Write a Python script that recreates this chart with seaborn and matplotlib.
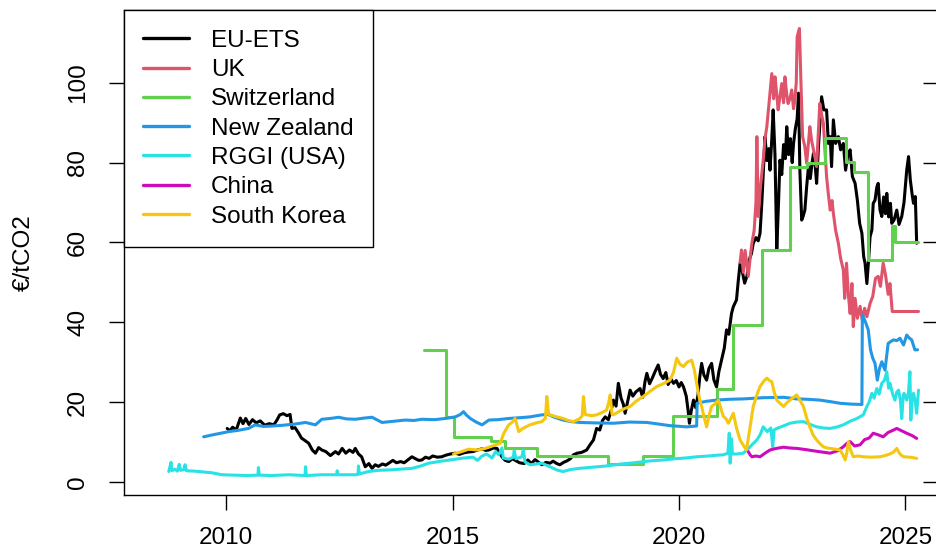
import matplotlib
matplotlib.use("Agg")
import matplotlib.pyplot as plt
import pandas as pd
import seaborn as sns
from matplotlib.lines import Line2D

# Carbon prices, (year, EUR per tonne CO2)
eu_ets = [
    (2010.02, 13.4), (2010.08, 12.8), (2010.14, 13.7), (2010.22, 13.0), (2010.31, 16.0),
    (2010.37, 14.6), (2010.43, 15.9), (2010.50, 14.4), (2010.58, 15.6), (2010.66, 14.8),
    (2010.75, 15.3), (2010.85, 14.2), (2010.95, 14.6), (2011.05, 14.3), (2011.12, 15.5),
    (2011.18, 16.8), (2011.26, 17.1), (2011.34, 16.6), (2011.41, 16.9), (2011.45, 13.4),
    (2011.52, 13.6), (2011.60, 12.2), (2011.66, 11.0), (2011.72, 10.5), (2011.82, 9.7),
    (2011.90, 8.0), (2011.97, 7.2), (2012.04, 8.6), (2012.11, 8.0), (2012.20, 7.6),
    (2012.30, 6.6), (2012.41, 7.6), (2012.48, 7.0), (2012.56, 8.4), (2012.64, 7.2),
    (2012.72, 8.0), (2012.80, 7.4), (2012.85, 8.4), (2012.92, 7.0), (2012.99, 6.3),
    (2013.07, 3.8), (2013.15, 4.6), (2013.22, 3.4), (2013.29, 4.3), (2013.36, 3.9),
    (2013.45, 4.5), (2013.52, 4.2), (2013.59, 4.7), (2013.68, 5.4), (2013.76, 4.8),
    (2013.85, 5.1), (2013.93, 4.8), (2014.02, 5.6), (2014.10, 6.3), (2014.18, 5.8),
    (2014.25, 5.4), (2014.32, 5.5), (2014.40, 6.2), (2014.48, 5.9), (2014.56, 6.5),
    (2014.66, 6.2), (2014.76, 6.3), (2014.85, 6.7), (2014.95, 7.0), (2015.06, 7.2),
    (2015.15, 6.9), (2015.25, 7.3), (2015.35, 7.5), (2015.45, 7.6), (2015.55, 8.0),
    (2015.65, 8.3), (2015.73, 7.9), (2015.80, 8.0), (2015.90, 8.5), (2015.98, 8.4),
    (2016.04, 7.2), (2016.09, 6.3), (2016.16, 5.4), (2016.24, 5.1), (2016.32, 5.8),
    (2016.40, 5.3), (2016.48, 4.8), (2016.58, 4.6), (2016.66, 5.5), (2016.74, 4.6),
    (2016.82, 5.6), (2016.90, 4.9), (2016.97, 4.3), (2017.06, 4.9), (2017.15, 4.7),
    (2017.22, 5.2), (2017.30, 4.6), (2017.37, 4.3), (2017.45, 4.9), (2017.53, 5.3),
    (2017.60, 5.8), (2017.67, 6.8), (2017.75, 7.2), (2017.85, 7.4), (2017.96, 8.0),
    (2018.04, 9.4), (2018.11, 10.5), (2018.18, 13.4), (2018.25, 13.0), (2018.31, 15.4),
    (2018.37, 16.3), (2018.44, 15.6), (2018.50, 17.8), (2018.55, 20.5), (2018.61, 19.0),
    (2018.66, 24.7), (2018.72, 21.0), (2018.77, 19.5), (2018.81, 17.2), (2018.86, 19.8),
    (2018.92, 23.0), (2018.98, 21.5), (2019.05, 22.6), (2019.14, 23.4), (2019.20, 21.2),
    (2019.25, 25.2), (2019.29, 27.2), (2019.35, 24.6), (2019.41, 26.0), (2019.47, 27.6),
    (2019.54, 29.3), (2019.59, 27.0), (2019.65, 25.9), (2019.71, 27.4), (2019.76, 24.4),
    (2019.82, 25.8), (2019.88, 24.7), (2019.94, 25.4), (2020.00, 23.8), (2020.05, 24.9),
    (2020.10, 23.8), (2020.16, 21.5), (2020.20, 18.0), (2020.23, 14.7), (2020.27, 17.8),
    (2020.32, 20.5), (2020.37, 18.6), (2020.42, 21.8), (2020.46, 26.4), (2020.50, 29.7),
    (2020.55, 26.8), (2020.61, 25.5), (2020.66, 28.4), (2020.72, 29.7), (2020.77, 25.6),
    (2020.83, 23.8), (2020.88, 27.6), (2020.94, 30.5), (2021.00, 33.5), (2021.05, 38.1),
    (2021.10, 37.0), (2021.16, 42.2), (2021.20, 43.9), (2021.27, 45.6), (2021.31, 50.5),
    (2021.35, 54.8), (2021.40, 52.6), (2021.45, 49.8), (2021.50, 51.5), (2021.55, 55.6),
    (2021.60, 57.2), (2021.64, 59.8), (2021.70, 61.2), (2021.75, 60.4), (2021.79, 62.3),
    (2021.83, 70.0), (2021.87, 79.5), (2021.90, 86.5), (2021.94, 80.5), (2021.98, 83.5),
    (2022.01, 78.1), (2022.05, 86.0), (2022.08, 93.2), (2022.12, 82.0), (2022.16, 58.1),
    (2022.20, 70.5), (2022.23, 80.6), (2022.27, 77.0), (2022.31, 84.5), (2022.35, 81.0),
    (2022.38, 89.0), (2022.42, 82.0), (2022.46, 86.0), (2022.50, 80.0), (2022.53, 84.8),
    (2022.57, 88.5), (2022.61, 91.0), (2022.64, 97.4), (2022.67, 78.0), (2022.71, 65.6),
    (2022.74, 66.5), (2022.78, 68.1), (2022.82, 74.0), (2022.86, 79.0), (2022.90, 76.0),
    (2022.94, 80.0), (2022.97, 82.3), (2023.01, 79.0), (2023.04, 74.8), (2023.08, 84.0),
    (2023.12, 91.0), (2023.15, 96.5), (2023.20, 93.2), (2023.26, 93.2), (2023.30, 84.8),
    (2023.34, 86.5), (2023.37, 79.0), (2023.41, 90.7), (2023.46, 84.8), (2023.52, 86.5),
    (2023.57, 83.2), (2023.63, 84.8), (2023.68, 78.1), (2023.73, 82.0), (2023.78, 83.2),
    (2023.83, 76.5), (2023.89, 74.8), (2023.94, 70.6), (2023.99, 64.8), (2024.04, 62.3),
    (2024.08, 56.4), (2024.11, 54.8), (2024.15, 49.7), (2024.19, 56.0), (2024.22, 61.4),
    (2024.26, 63.1), (2024.29, 69.8), (2024.33, 70.6), (2024.37, 73.9), (2024.40, 74.8),
    (2024.44, 68.1), (2024.48, 66.5), (2024.52, 71.4), (2024.56, 67.2), (2024.59, 72.3),
    (2024.63, 66.4), (2024.67, 69.8), (2024.70, 64.8), (2024.75, 65.6), (2024.81, 68.1),
    (2024.86, 64.5), (2024.92, 66.5), (2024.97, 70.0), (2025.03, 78.1), (2025.07, 81.5),
    (2025.11, 75.6), (2025.15, 72.0), (2025.18, 69.8), (2025.22, 71.5), (2025.25, 59.8),
]

uk = [
    (2021.35, 55.0), (2021.38, 58.1), (2021.42, 52.5), (2021.46, 58.0), (2021.53, 51.5),
    (2021.58, 57.0), (2021.61, 59.8), (2021.66, 63.0), (2021.70, 70.0), (2021.72, 86.5),
    (2021.75, 66.5), (2021.80, 74.0), (2021.86, 80.6), (2021.90, 86.0), (2021.94, 89.0),
    (2021.99, 95.0), (2022.05, 102.3), (2022.09, 96.0), (2022.12, 101.5), (2022.16, 97.0),
    (2022.19, 93.2), (2022.23, 96.5), (2022.27, 99.8), (2022.31, 95.0), (2022.34, 101.5),
    (2022.38, 97.0), (2022.41, 94.8), (2022.45, 96.0), (2022.49, 98.2), (2022.53, 93.5),
    (2022.56, 95.7), (2022.59, 100.0), (2022.61, 111.5), (2022.66, 113.6), (2022.69, 101.5),
    (2022.73, 86.5), (2022.78, 84.0), (2022.82, 79.8), (2022.86, 85.0), (2022.89, 89.0),
    (2022.93, 85.5), (2022.97, 83.2), (2023.01, 81.0), (2023.04, 79.0), (2023.08, 88.0),
    (2023.11, 94.8), (2023.15, 92.0), (2023.19, 89.8), (2023.23, 82.0), (2023.26, 76.5),
    (2023.30, 72.0), (2023.34, 68.1), (2023.38, 70.5), (2023.41, 67.3), (2023.46, 63.0),
    (2023.52, 59.8), (2023.57, 56.0), (2023.63, 53.1), (2023.66, 46.0), (2023.70, 54.8),
    (2023.74, 47.0), (2023.78, 42.2), (2023.82, 49.7), (2023.85, 38.9), (2023.89, 46.0),
    (2023.94, 41.0), (2024.00, 44.0), (2024.05, 40.5), (2024.10, 43.5), (2024.15, 41.4),
    (2024.22, 44.7), (2024.28, 46.5), (2024.34, 51.0), (2024.40, 51.5), (2024.45, 49.0),
    (2024.51, 54.8), (2024.56, 52.0), (2024.62, 47.0), (2024.66, 49.7), (2024.71, 42.7),
    (2025.29, 42.7),
]

switzerland = [
    (2014.36, 33.1), (2014.85, 16.3), (2015.04, 11.3), (2015.85, 10.3), (2016.16, 8.4),
    (2016.86, 6.6), (2018.44, 4.5), (2019.21, 6.5), (2019.86, 16.6), (2020.83, 23.2),
    (2021.19, 39.3), (2021.83, 58.1), (2022.45, 78.9), (2022.82, 79.8), (2023.23, 86.1),
    (2023.69, 80.2), (2023.87, 77.6), (2024.17, 55.6), (2024.70, 64.1), (2024.77, 60.2),
    (2025.27, 60.2),
]

new_zealand = [
    (2009.50, 11.3), (2009.70, 11.8), (2009.88, 12.2), (2010.05, 12.6), (2010.25, 12.9),
    (2010.49, 13.4), (2010.64, 14.3), (2010.82, 13.9), (2011.01, 14.0), (2011.25, 14.2),
    (2011.52, 14.5), (2011.75, 14.9), (2011.97, 14.3), (2012.11, 15.7), (2012.30, 15.9),
    (2012.48, 16.2), (2012.65, 15.8), (2012.85, 15.7), (2013.05, 16.0), (2013.22, 16.2),
    (2013.44, 14.9), (2013.70, 15.2), (2013.95, 15.5), (2014.15, 15.4), (2014.32, 15.7),
    (2014.60, 15.6), (2014.84, 15.9), (2015.06, 16.3), (2015.17, 16.9), (2015.24, 17.6),
    (2015.30, 16.8), (2015.39, 15.9), (2015.52, 15.0), (2015.65, 14.3), (2015.80, 15.5),
    (2016.00, 15.6), (2016.24, 15.9), (2016.50, 16.1), (2016.71, 16.3), (2016.97, 16.8),
    (2017.11, 16.9), (2017.25, 16.2), (2017.44, 15.5), (2017.62, 15.1), (2017.81, 14.9),
    (2018.10, 14.8), (2018.55, 14.7), (2018.90, 15.0), (2019.29, 14.9), (2019.55, 14.5),
    (2019.80, 14.1), (2020.17, 13.8), (2020.39, 14.0), (2020.40, 19.7), (2020.60, 20.2),
    (2020.83, 20.5), (2021.10, 20.7), (2021.42, 20.8), (2021.86, 21.1), (2022.31, 21.2),
    (2022.60, 20.8), (2022.85, 20.7), (2023.11, 20.5), (2023.35, 20.1), (2023.56, 19.7),
    (2023.80, 19.5), (2024.04, 19.4), (2024.05, 41.8), (2024.07, 41.4), (2024.12, 40.0),
    (2024.18, 38.1), (2024.23, 33.1), (2024.28, 31.0), (2024.33, 29.7), (2024.38, 25.5),
    (2024.43, 28.5), (2024.48, 30.1), (2024.55, 28.0), (2024.62, 34.7), (2024.68, 35.2),
    (2024.74, 35.6), (2024.81, 35.4), (2024.88, 36.0), (2024.96, 34.3), (2025.03, 36.8),
    (2025.09, 36.0), (2025.14, 35.6), (2025.21, 33.1), (2025.27, 33.1),
]

rggi = [
    (2008.73, 2.6), (2008.78, 4.9), (2008.80, 2.8), (2008.86, 3.2), (2008.92, 2.7),
    (2008.96, 4.4), (2008.99, 2.9), (2009.06, 3.1), (2009.09, 4.3), (2009.12, 2.8),
    (2009.30, 2.7), (2009.50, 2.5), (2009.68, 2.3), (2009.90, 1.8), (2010.20, 1.7),
    (2010.45, 1.6), (2010.70, 1.7), (2010.71, 3.6), (2010.73, 1.7), (2011.00, 1.6),
    (2011.38, 1.8), (2011.74, 1.6), (2011.75, 3.8), (2011.77, 1.6), (2012.11, 1.8),
    (2012.44, 1.8), (2012.45, 2.8), (2012.47, 1.8), (2012.85, 1.8), (2012.91, 1.9),
    (2012.92, 4.0), (2012.94, 2.0), (2013.14, 2.6), (2013.35, 2.9), (2013.59, 3.0),
    (2013.85, 3.2), (2014.10, 3.4), (2014.30, 4.0), (2014.47, 4.7), (2014.75, 5.2),
    (2015.06, 5.7), (2015.25, 6.0), (2015.45, 6.2), (2015.55, 5.4), (2015.65, 6.5),
    (2015.75, 7.0), (2015.87, 6.0), (2015.95, 7.6), (2016.02, 6.8), (2016.09, 8.5),
    (2016.12, 6.0), (2016.24, 5.7), (2016.34, 6.2), (2016.36, 7.8), (2016.40, 5.8),
    (2016.53, 6.3), (2016.56, 8.0), (2016.60, 5.0), (2016.71, 4.3), (2016.85, 4.5),
    (2016.97, 4.7), (2017.15, 3.8), (2017.30, 3.0), (2017.44, 2.6), (2017.60, 3.1),
    (2017.80, 3.4), (2018.00, 3.6), (2018.18, 3.8), (2018.40, 4.0), (2018.65, 4.4),
    (2018.92, 4.7), (2019.15, 5.0), (2019.40, 5.3), (2019.65, 5.5), (2019.90, 5.8),
    (2020.15, 6.0), (2020.39, 6.3), (2020.65, 6.5), (2020.85, 6.7), (2020.98, 6.8),
    (2021.08, 7.2), (2021.11, 12.2), (2021.13, 4.7), (2021.16, 10.8), (2021.18, 7.0),
    (2021.28, 7.0), (2021.42, 7.2), (2021.52, 8.2), (2021.62, 9.4), (2021.72, 10.5),
    (2021.80, 12.0), (2021.86, 13.8), (2021.95, 12.6), (2022.03, 13.5), (2022.07, 8.8),
    (2022.10, 13.0), (2022.16, 13.4), (2022.30, 14.0), (2022.45, 14.7), (2022.60, 15.0),
    (2022.75, 15.1), (2022.90, 14.4), (2023.04, 13.8), (2023.20, 13.5), (2023.34, 13.4),
    (2023.50, 13.8), (2023.63, 14.3), (2023.78, 15.2), (2023.93, 15.9), (2024.07, 16.8),
    (2024.15, 18.9), (2024.20, 20.0), (2024.26, 22.2), (2024.31, 21.0), (2024.37, 23.4),
    (2024.42, 22.0), (2024.48, 24.7), (2024.54, 25.5), (2024.59, 27.6), (2024.63, 23.5),
    (2024.66, 24.7), (2024.72, 22.0), (2024.77, 20.5), (2024.81, 22.5), (2024.85, 23.0),
    (2024.89, 20.5), (2024.92, 15.9), (2024.95, 21.0), (2024.97, 22.2), (2025.03, 20.5),
    (2025.07, 22.5), (2025.10, 27.6), (2025.12, 15.5), (2025.15, 21.0), (2025.18, 22.2),
    (2025.22, 20.0), (2025.25, 17.2), (2025.29, 23.0),
]

china = [
    (2021.53, 7.6), (2021.57, 6.8), (2021.61, 6.3), (2021.70, 6.5), (2021.79, 6.3),
    (2021.90, 7.2), (2022.01, 8.0), (2022.15, 8.4), (2022.31, 8.7), (2022.45, 8.5),
    (2022.60, 8.4), (2022.80, 8.1), (2022.97, 7.8), (2023.15, 7.5), (2023.34, 7.2),
    (2023.50, 7.8), (2023.63, 8.8), (2023.70, 9.6), (2023.78, 10.1), (2023.88, 9.0),
    (2024.00, 9.3), (2024.10, 10.6), (2024.20, 11.0), (2024.29, 12.2), (2024.40, 11.8),
    (2024.51, 11.3), (2024.62, 12.4), (2024.72, 12.9), (2024.81, 13.4), (2024.92, 12.8),
    (2025.03, 12.2), (2025.15, 11.6), (2025.25, 10.9),
]

south_korea = [
    (2015.02, 7.0), (2015.20, 7.6), (2015.35, 8.2), (2015.55, 8.0), (2015.72, 8.4),
    (2015.90, 9.1), (2016.05, 9.7), (2016.13, 12.2), (2016.24, 14.3), (2016.32, 15.0),
    (2016.38, 15.9), (2016.46, 12.6), (2016.55, 13.4), (2016.71, 14.3), (2016.85, 14.8),
    (2016.97, 15.1), (2017.05, 16.0), (2017.08, 21.4), (2017.12, 17.0), (2017.15, 16.8),
    (2017.30, 16.3), (2017.44, 15.9), (2017.55, 15.4), (2017.67, 15.1), (2017.80, 15.8),
    (2017.86, 16.5), (2017.89, 21.4), (2017.93, 16.9), (2017.96, 16.8), (2018.08, 16.6),
    (2018.18, 16.8), (2018.30, 17.4), (2018.40, 18.0), (2018.45, 20.0), (2018.48, 21.8),
    (2018.52, 17.0), (2018.55, 16.8), (2018.70, 17.8), (2018.80, 18.4), (2018.92, 18.9),
    (2019.05, 20.2), (2019.21, 21.4), (2019.35, 22.6), (2019.51, 23.9), (2019.65, 24.6),
    (2019.80, 25.5), (2019.88, 27.5), (2019.95, 31.0), (2020.02, 29.5), (2020.10, 28.9),
    (2020.18, 30.0), (2020.28, 30.5), (2020.34, 28.0), (2020.39, 24.7), (2020.45, 21.0),
    (2020.50, 18.9), (2020.56, 16.0), (2020.61, 13.8), (2020.66, 16.5), (2020.72, 18.9),
    (2020.80, 19.6), (2020.87, 20.5), (2020.93, 18.2), (2020.98, 16.4), (2021.04, 15.8),
    (2021.09, 14.7), (2021.15, 16.0), (2021.20, 17.2), (2021.27, 13.5), (2021.35, 10.5),
    (2021.42, 9.2), (2021.49, 8.0), (2021.56, 13.0), (2021.64, 18.9), (2021.72, 21.8),
    (2021.79, 23.9), (2021.87, 25.2), (2021.94, 26.0), (2022.00, 25.4), (2022.05, 25.1),
    (2022.10, 22.6), (2022.16, 20.5), (2022.24, 19.6), (2022.31, 18.9), (2022.38, 19.8),
    (2022.45, 20.5), (2022.53, 21.2), (2022.60, 21.8), (2022.68, 20.3), (2022.75, 18.9),
    (2022.82, 16.0), (2022.89, 13.8), (2022.96, 11.8), (2023.04, 10.5), (2023.12, 9.5),
    (2023.19, 8.8), (2023.27, 8.5), (2023.34, 8.4), (2023.45, 8.2), (2023.56, 8.0),
    (2023.62, 6.8), (2023.67, 5.5), (2023.71, 7.5), (2023.74, 10.1), (2023.79, 8.0),
    (2023.85, 6.3), (2023.95, 6.5), (2024.07, 6.3), (2024.25, 6.2), (2024.44, 6.3),
    (2024.55, 6.6), (2024.66, 7.0), (2024.74, 7.5), (2024.81, 8.4), (2024.88, 7.0),
    (2024.96, 6.3), (2025.10, 6.2), (2025.25, 5.9),
]

markets = ["EU-ETS", "UK", "Switzerland", "New Zealand", "RGGI (USA)", "China", "South Korea"]
market_prices = [eu_ets, uk, switzerland, new_zealand, rggi, china, south_korea]
market_colors = ["#000000", "#DF536B", "#61D04F", "#2297E6", "#28E2E5", "#CD0BBC", "#F5C710"]

x_ticks = [2010, 2015, 2020, 2025]
y_ticks = [0, 20, 40, 60, 80, 100]

sns.set_style("ticks")
plt.rcParams["font.family"] = ["Liberation Sans", "DejaVu Sans"]
plt.rcParams["axes.edgecolor"] = "black"
plt.rcParams["xtick.color"] = "black"
plt.rcParams["ytick.color"] = "black"
plt.rcParams["text.color"] = "black"
plt.rcParams["axes.labelcolor"] = "black"

fig = plt.figure(figsize=(9.37, 5.52), dpi=100)
ax = fig.add_axes([0.1320, 0.1038, 0.8696, 0.8775])

for name, prices, color in zip(markets, market_prices, market_colors):
    frame = pd.DataFrame(prices, columns=["year", "price"])
    extra = {"drawstyle": "steps-post"} if name == "Switzerland" else {}
    sns.lineplot(data=frame, x="year", y="price", ax=ax, color=color, lw=2.2,
                 sort=False, estimator=None, **extra)

ax.set_xlim(2007.734, 2025.732)
ax.set_ylim(-3.2, 118.15)
ax.set_xticks(x_ticks)
ax.set_xticklabels([str(t) for t in x_ticks])
ax.set_yticks(y_ticks)
ax.set_yticklabels([str(t) for t in y_ticks])
ax.set_xlabel("")
ax.set_ylabel("€/tCO2", fontsize=17.5)
ax.yaxis.set_label_coords(-0.122, 0.5)
ax.yaxis.label.set_verticalalignment("center")

ax.tick_params(axis="both", direction="out", length=10.8, width=1.0, labelsize=17.5)
ax.tick_params(axis="x", pad=12.5)
ax.tick_params(axis="y", pad=14)
for lab in ax.get_yticklabels():
    lab.set_rotation(90)
    lab.set_verticalalignment("center")

for side in ["left", "bottom", "top", "right"]:
    ax.spines[side].set_visible(True)
    ax.spines[side].set_linewidth(1.0)
    ax.spines[side].set_color("black")

# inward ticks along the right edge
ax_r = ax.twinx()
ax_r.set_ylim(ax.get_ylim())
ax_r.set_yticks(y_ticks)
ax_r.tick_params(axis="y", direction="in", length=10.8, width=1.0, labelright=False)
for side in ax_r.spines.values():
    side.set_visible(False)

handles = [Line2D([0], [0], color=c, lw=2.4) for c in market_colors]
leg = ax.legend(handles, markets, loc="upper left", bbox_to_anchor=(0, 1),
                borderaxespad=0, frameon=True, fancybox=False, framealpha=1,
                edgecolor="black", fontsize=17.5, handlelength=1.9,
                handletextpad=0.9, labelspacing=0.3, borderpad=0.8)
leg.get_frame().set_linewidth(1.0)

fig.savefig("out.png", dpi=100)
